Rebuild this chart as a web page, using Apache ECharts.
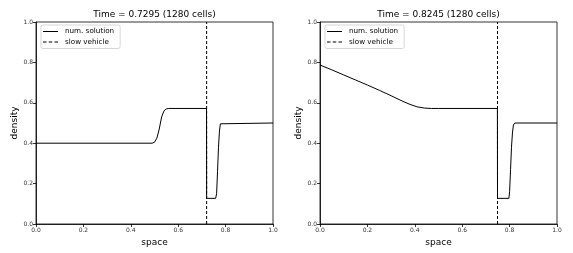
<!DOCTYPE html>
<html><head><meta charset="utf-8">
<script src="https://cdn.jsdelivr.net/npm/echarts@6/dist/echarts.min.js"></script>
<style>html,body{margin:0;padding:0;background:#fff}#c{width:573px;height:253px}</style>
</head><body><div id="c"></div>
<script>
// Panel titles
const titles = ['Time = 0.7295 (1280 cells)', 'Time = 0.8245 (1280 cells)'];
const legendNames = ['num. solution', 'slow vehicle'];
const xTicks = [0, 0.2, 0.4, 0.6, 0.8, 1.0];
const yTicks = [0, 0.2, 0.4, 0.6, 0.8, 1.0];

// Left panel: numerical solution (space, density)
const leftX = [0, 0.49, 0.50, 0.51, 0.52, 0.53, 0.54, 0.55, 0.56, 0.7195, 0.7200, 0.758, 0.762, 0.766, 0.770, 0.774, 0.778, 0.783, 1.0];
const leftY = [0.4, 0.4, 0.405, 0.425, 0.47, 0.53, 0.56, 0.57, 0.572, 0.572, 0.127, 0.127, 0.15, 0.26, 0.38, 0.46, 0.496, 0.5, 0.5];
const leftVehicle = 0.720;

// Right panel: numerical solution (space, density)
const rightX = [0, 0.05, 0.10, 0.15, 0.20, 0.25, 0.30, 0.35, 0.38, 0.41, 0.44, 0.47, 0.50, 0.7485, 0.7490, 0.797, 0.800, 0.804, 0.808, 0.812, 0.816, 0.822, 1.0];
const rightY = [0.787, 0.763, 0.738, 0.713, 0.688, 0.662, 0.635, 0.607, 0.592, 0.580, 0.574, 0.572, 0.572, 0.572, 0.127, 0.127, 0.16, 0.27, 0.38, 0.45, 0.49, 0.5, 0.5];
const rightVehicle = 0.749;

const panels = [
  {title: titles[0], xs: leftX, ys: leftY, v: leftVehicle, left: 36},
  {title: titles[1], xs: rightX, ys: rightY, v: rightVehicle, left: 320}
];
const W = 237, H = 202, TOP = 22;
const font = 'DejaVu Sans';
const solidIcon = 'path://M0,0H30V2H0Z';
const dashedIcon = 'path://M0,0H7V2H0ZM11.5,0H18.5V2H11.5ZM23,0H30V2H23Z';

const option = {
  animation: false,
  backgroundColor: '#fff',
  textStyle: {fontFamily: font},
  title: panels.map(p => ({
    text: p.title, left: p.left + W / 2, top: 10, textAlign: 'center',
    textStyle: {fontFamily: font, fontSize: 9, fontWeight: 'normal', color: '#000'}, padding: 0
  })),
  legend: panels.map(p => ({
    data: [{name: legendNames[0], icon: solidIcon}, {name: legendNames[1], icon: dashedIcon}],
    orient: 'vertical', left: p.left + 5, top: TOP + 3,
    itemWidth: 15, itemHeight: 1, itemGap: 3.5,
    padding: [3, 6, 3, 2],
    backgroundColor: '#fff', borderColor: '#cccccc', borderWidth: 0.8, borderRadius: 2,
    textStyle: {fontFamily: font, fontSize: 7.2, color: '#000', padding: [0, 0, 0, 2], lineHeight: 7},
    itemStyle: {color: '#000'},
    selectedMode: false
  })),
  grid: panels.map(p => ({
    left: p.left, top: TOP, width: W, height: H, show: true,
    borderColor: '#000', borderWidth: 0.8, backgroundColor: 'transparent', containLabel: false
  })),
  xAxis: panels.map((p, i) => ({
    type: 'value', gridIndex: i, min: xTicks[0], max: xTicks[xTicks.length - 1], interval: 0.2,
    name: 'space', nameLocation: 'middle', nameGap: 12,
    nameTextStyle: {fontFamily: font, fontSize: 9, color: '#000'},
    axisLine: {show: true, lineStyle: {color: '#000', width: 0.8}},
    axisTick: {show: true, inside: false, length: 3, lineStyle: {color: '#000', width: 0.8}},
    axisLabel: {fontFamily: font, fontSize: 6, color: '#333', margin: 3, formatter: v => v.toFixed(1)},
    splitLine: {show: false}
  })),
  yAxis: panels.map((p, i) => ({
    type: 'value', gridIndex: i, min: yTicks[0], max: yTicks[yTicks.length - 1], interval: 0.2,
    name: 'density', nameLocation: 'middle', nameGap: 17, nameRotate: 90,
    nameTextStyle: {fontFamily: font, fontSize: 9, color: '#000'},
    axisLine: {show: true, lineStyle: {color: '#000', width: 0.8}},
    axisTick: {show: true, inside: false, length: 3, lineStyle: {color: '#000', width: 0.8}},
    axisLabel: {fontFamily: font, fontSize: 6, color: '#333', margin: 3, formatter: v => v.toFixed(1)},
    splitLine: {show: false}
  })),
  series: panels.flatMap((p, i) => [
    {
      name: legendNames[0], type: 'line', xAxisIndex: i, yAxisIndex: i,
      data: p.xs.map((x, k) => [x, p.ys[k]]), smooth: false, showSymbol: false, symbol: 'none',
      lineStyle: {color: '#000', width: 1}, itemStyle: {color: '#000'}
    },
    {
      name: legendNames[1], type: 'line', xAxisIndex: i, yAxisIndex: i,
      data: [[p.v, yTicks[0]], [p.v, yTicks[yTicks.length - 1]]], showSymbol: false, symbol: 'none',
      lineStyle: {color: '#000', width: 1, type: [3, 2]}, itemStyle: {color: '#000'}
    }
  ])
};
const chart = echarts.init(document.getElementById('c'), null, {renderer: 'canvas'});
chart.setOption(option);
</script>
</body></html>
